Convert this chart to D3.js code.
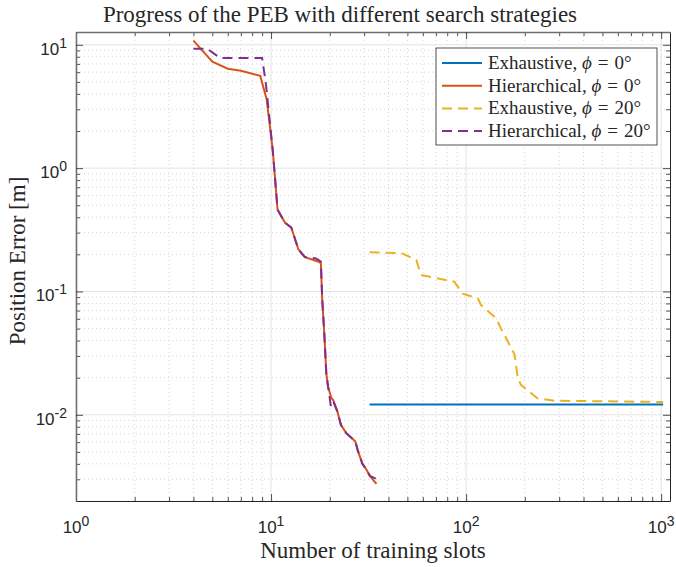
<!DOCTYPE html>
<html>
<head>
<meta charset="utf-8">
<script src="https://cdn.jsdelivr.net/npm/d3@7"></script>
<style>
  body { margin: 0; background: #fff; }
  .serif { font-family: 'Liberation Serif', 'Times New Roman', serif; fill: #262626; }
  .tickLabel { font-family: 'Liberation Sans', Arial, sans-serif; fill: #262626; }
</style>
</head>
<body>
<script>
// Data (slots, position error in m)
const slotsHier0 = [4, 5, 6, 7, 8.8, 9.5, 10.2, 10.8, 11.8, 12.7, 13.8, 14.9, 17.4, 18, 18.3, 18.7, 19.2, 19.6, 20.4, 20.8, 21.9, 22.8, 24.3, 27, 28, 29.4, 30.8, 32.1, 34.7];
const errHier0 = [10.8, 7.3, 6.4, 6.15, 5.6, 3.6, 1.4, 0.46, 0.36, 0.33, 0.22, 0.19, 0.175, 0.17, 0.0855, 0.049, 0.0217, 0.0169, 0.0136, 0.0132, 0.0106, 0.0083, 0.0071, 0.0061, 0.005, 0.004, 0.0036, 0.0032, 0.00275];

const slotsHier20 = [4, 4.7, 5.5, 9, 9.4, 10.2, 10.8, 11.8, 12.7, 13.8, 14.9, 17, 18, 18.3, 18.7, 19.2, 19.6, 20.3, 21, 21.9, 22.8, 24.3, 27, 28, 29.4, 30.8, 32.1, 35];
const errHier20 = [9.3, 9.3, 7.8, 7.8, 4.9, 1.4, 0.46, 0.36, 0.33, 0.22, 0.19, 0.185, 0.175, 0.0855, 0.049, 0.0217, 0.0169, 0.0115, 0.0125, 0.0106, 0.0083, 0.0071, 0.0061, 0.005, 0.004, 0.0036, 0.0032, 0.003];

const slotsExh20 = [32, 46.5, 55.5, 58.8, 87, 96, 115, 119, 142, 151, 177, 184, 191, 232, 283, 1024];
const errExh20 = [0.208, 0.205, 0.18, 0.136, 0.12, 0.096, 0.088, 0.078, 0.061, 0.05, 0.031, 0.02, 0.0175, 0.0136, 0.013, 0.0127];

const slotsExh0 = [32, 1024];
const errExh0 = [0.0121, 0.0121];

const seriesNames = ['Exhaustive', 'Hierarchical', 'Exhaustive', 'Hierarchical'];
const seriesPhi = ['0°', '0°', '20°', '20°'];

const xMajor = [1, 10, 100, 1000];
const yMajor = [0.01, 0.1, 1, 10];
const xExp = ['0', '1', '2', '3'];
const yExp = ['-2', '-1', '0', '1'];

// Set size of SVG
const svgWidth = 676;
const svgHeight = 567;
const margin = { top: 32, right: 6, bottom: 66, left: 76 };
const width = svgWidth - margin.left - margin.right;
const height = svgHeight - margin.top - margin.bottom;

const svg = d3.select('body').append('svg')
  .attr('width', svgWidth)
  .attr('height', svgHeight);

const chartGroup = svg.append('g')
  .attr('transform', `translate(${margin.left}, ${margin.top})`);

const x = d3.scaleLog().domain([1, 1110]).range([0, width]);
const y = d3.scaleLog().domain([0.002, 12.7]).range([height, 0]);

// minor tick values (2..9 in each decade, inside the domain)
function minorTicks(scale) {
  const [a, b] = scale.domain();
  const out = [];
  for (let e = Math.floor(Math.log10(a)); e <= Math.ceil(Math.log10(b)); e++) {
    for (let m = 2; m <= 9; m++) {
      const v = m * Math.pow(10, e);
      if (v >= a * 0.999 && v <= b) out.push(v);
    }
  }
  return out;
}
const xMinor = minorTicks(x);
const yMinor = minorTicks(y);

// grid
const grid = chartGroup.append('g');
grid.selectAll('.xminor').data(xMinor).enter().append('line')
  .attr('x1', d => x(d)).attr('x2', d => x(d)).attr('y1', 0).attr('y2', height)
  .attr('stroke', '#c4c4c4').attr('stroke-width', 0.7).attr('stroke-dasharray', '1,3');
grid.selectAll('.yminor').data(yMinor).enter().append('line')
  .attr('y1', d => y(d)).attr('y2', d => y(d)).attr('x1', 0).attr('x2', width)
  .attr('stroke', '#c4c4c4').attr('stroke-width', 0.7).attr('stroke-dasharray', '1,3');
grid.selectAll('.xmajor').data(xMajor).enter().append('line')
  .attr('x1', d => x(d)).attr('x2', d => x(d)).attr('y1', 0).attr('y2', height)
  .attr('stroke', '#e3e3e3').attr('stroke-width', 1);
grid.selectAll('.ymajor').data(yMajor).enter().append('line')
  .attr('y1', d => y(d)).attr('y2', d => y(d)).attr('x1', 0).attr('x2', width)
  .attr('stroke', '#e3e3e3').attr('stroke-width', 1);

// lines
chartGroup.append('clipPath').attr('id', 'clip')
  .append('rect').attr('width', width).attr('height', height);

const lineGen = d3.line().x(d => x(d[0])).y(d => y(d[1]));
const series = [
  { xs: slotsExh0, ys: errExh0, color: '#0072BD', dash: null },
  { xs: slotsHier0, ys: errHier0, color: '#D95319', dash: null },
  { xs: slotsExh20, ys: errExh20, color: '#EDB120', dash: '10,6' },
  { xs: slotsHier20, ys: errHier20, color: '#7E2F8E', dash: '10,6' },
];
chartGroup.append('g').attr('clip-path', 'url(#clip)')
  .selectAll('path').data(series).enter().append('path')
  .attr('d', s => lineGen(s.xs.map((v, i) => [v, s.ys[i]])))
  .attr('fill', 'none')
  .attr('stroke', s => s.color)
  .attr('stroke-width', 2)
  .attr('stroke-dasharray', s => s.dash);

// axes (ticks inside on all four sides)
function styleAxis(g, color, w) {
  g.select('.domain').attr('stroke', color).attr('stroke-width', w);
  g.selectAll('.tick line').attr('stroke', '#262626').attr('stroke-width', 0.8);
}
function addAxis(axisFn, scale, transform, color, w) {
  const gMinor = chartGroup.append('g').attr('transform', transform)
    .call(axisFn(scale).tickValues(scale === x ? xMinor : yMinor).tickSize(-4).tickSizeOuter(0).tickFormat(''));
  gMinor.select('.domain').remove();
  gMinor.selectAll('.tick line').attr('stroke', '#262626').attr('stroke-width', 0.8);
  const gMajor = chartGroup.append('g').attr('transform', transform)
    .call(axisFn(scale).tickValues(scale === x ? xMajor : yMajor).tickSize(-7).tickSizeOuter(0).tickFormat(''));
  styleAxis(gMajor, color, w);
}
addAxis(d3.axisBottom, x, `translate(0, ${height})`, '#262626', 1);
addAxis(d3.axisTop, x, 'translate(0, 0)', '#6e6e6e', 1.5);
addAxis(d3.axisLeft, y, 'translate(0, 0)', '#6e6e6e', 1.5);
addAxis(d3.axisRight, y, `translate(${width}, 0)`, '#262626', 1);

// tick labels 10^n
const xLab = chartGroup.selectAll('.xlab').data(xMajor).enter().append('text')
  .attr('class', 'tickLabel')
  .attr('x', d => x(d))
  .attr('y', height + 32)
  .attr('text-anchor', 'middle')
  .attr('font-size', 17);
xLab.append('tspan').text('10');
xLab.append('tspan').attr('dy', -7).attr('font-size', 14).text((d, i) => xExp[i]);

const yLab = chartGroup.selectAll('.ylab').data(yMajor).enter().append('text')
  .attr('class', 'tickLabel')
  .attr('x', -9)
  .attr('y', d => y(d) + 10)
  .attr('text-anchor', 'end')
  .attr('font-size', 17);
yLab.append('tspan').text('10');
yLab.append('tspan').attr('dy', -7).attr('font-size', 14).text((d, i) => yExp[i]);

// title and axis labels
svg.append('text').attr('class', 'serif')
  .attr('x', 340).attr('y', 22)
  .attr('text-anchor', 'middle').attr('font-size', 23)
  .text('Progress of the PEB with different search strategies');

svg.append('text').attr('class', 'serif')
  .attr('x', margin.left + width / 2).attr('y', 558)
  .attr('text-anchor', 'middle').attr('font-size', 23)
  .text('Number of training slots');

svg.append('text').attr('class', 'serif')
  .attr('transform', 'translate(25, 261) rotate(-90)')
  .attr('text-anchor', 'middle').attr('font-size', 23)
  .text('Position Error [m]');

// legend
const legend = svg.append('g').attr('transform', 'translate(436, 48)');
legend.append('rect')
  .attr('width', 221).attr('height', 97)
  .attr('fill', '#fff').attr('stroke', '#262626').attr('stroke-width', 0.8);

const items = legend.selectAll('.item').data(series).enter().append('g')
  .attr('transform', (d, i) => `translate(0, ${15 + i * 22.7})`);
items.append('line')
  .attr('x1', 6).attr('x2', 46).attr('y1', 0).attr('y2', 0)
  .attr('stroke', d => d.color).attr('stroke-width', 2)
  .attr('stroke-dasharray', d => d.dash);
const lt = items.append('text').attr('class', 'serif')
  .attr('x', 52).attr('y', 6).attr('font-size', 19);
lt.append('tspan').text((d, i) => seriesNames[i] + ', ');
lt.append('tspan').attr('font-style', 'italic').text('ϕ');
lt.append('tspan').attr('dx', 6).text('=');
lt.append('tspan').attr('dx', 6).text((d, i) => seriesPhi[i]);
</script>
</body>
</html>
